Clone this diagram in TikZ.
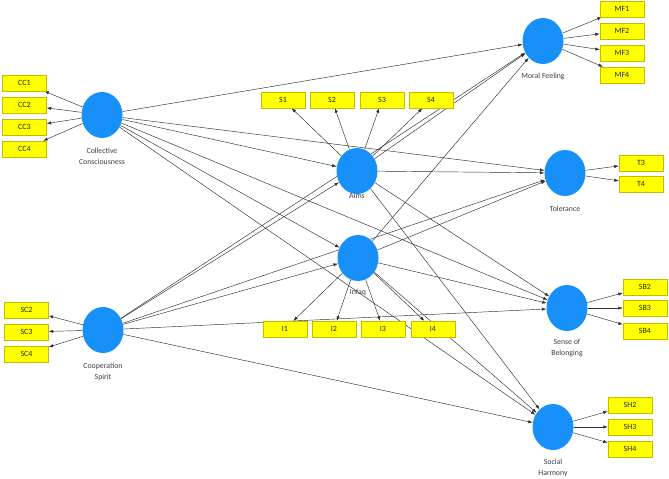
\documentclass[tikz,border=0pt]{standalone}
\usepackage{fontspec}
\setmainfont{Carlito}
\usetikzlibrary{shapes.geometric,arrows.meta}
\pgfdeclarelayer{bg}
\pgfsetlayers{bg,main}
\definecolor{lvblue}{RGB}{24,144,250}
\definecolor{indyel}{RGB}{255,255,0}
\definecolor{indborder}{RGB}{196,186,0}
\definecolor{edgegray}{RGB}{45,45,45}
\definecolor{labgray}{RGB}{60,60,75}
\begin{document}
\begin{tikzpicture}[x=1pt,y=-1pt,
  latent/.style={ellipse, fill=lvblue, minimum width=41pt, minimum height=46pt, inner sep=0pt},
  indic/.style={rectangle, fill=indyel, draw=indborder, line width=0.4pt, minimum width=44pt, minimum height=16pt, inner sep=0pt, font=\fontsize{8}{9}\selectfont, text=black!85},
  lvlabel/.style={font=\fontsize{7.8}{11}\selectfont, text=labgray, align=center},
  conn/.style={draw=edgegray, line width=0.45pt, -{Latex[length=4.5pt,width=3.2pt]}}]
\useasboundingbox (0,0) rectangle (669,479);

% latent variables
\node[latent] (CC) at (102,115) {};
\node[latent] (CS) at (103,330) {};
\node[latent] (AI) at (357,171) {};
\node[latent] (IN) at (358,258) {};
\node[latent] (MF) at (543,41) {};
\node[latent] (TO) at (565,173) {};
\node[latent] (SB) at (567,308) {};
\node[latent] (SH) at (553,427) {};

% labels
\node[lvlabel] (lCC) at (102,156.5) {Collective\\Consciousness};
\node[lvlabel] (lCS) at (103,372) {Cooperation\\Spirit};
\node[lvlabel] (lAI) at (357,196) {Aims};
\node[lvlabel] (lIN) at (358,292) {Infaq};
\node[lvlabel] (lMF) at (543,76) {Moral Feeling};
\node[lvlabel] (lTO) at (565,209) {Tolerance};
\node[lvlabel] (lSB) at (567,348) {Sense of\\Belonging};
\node[lvlabel] (lSH) at (553,467.5) {Social\\Harmony};

% indicators
\node[indic] (CC1) at (24.5,83) {CC1};
\node[indic] (CC2) at (24.5,105) {CC2};
\node[indic] (CC3) at (24.5,127) {CC3};
\node[indic] (CC4) at (24.5,149) {CC4};

\node[indic] (SC2) at (26.5,310) {SC2};
\node[indic] (SC3) at (26.5,332) {SC3};
\node[indic] (SC4) at (26.5,354) {SC4};

\node[indic] (S1) at (283,100) {S1};
\node[indic] (S2) at (332,100) {S2};
\node[indic] (S3) at (382,100) {S3};
\node[indic] (S4) at (431,100) {S4};

\node[indic] (I1) at (285,329) {I1};
\node[indic] (I2) at (334,329) {I2};
\node[indic] (I3) at (383,329) {I3};
\node[indic] (I4) at (433,329) {I4};

\node[indic] (MF1) at (622,9) {MF1};
\node[indic] (MF2) at (622,31) {MF2};
\node[indic] (MF3) at (622,53) {MF3};
\node[indic] (MF4) at (622,75) {MF4};

\node[indic] (T3) at (641,163) {T3};
\node[indic] (T4) at (641,184) {T4};

\node[indic] (SB2) at (645,287) {SB2};
\node[indic] (SB3) at (645,308) {SB3};
\node[indic] (SB4) at (645,331) {SB4};

\node[indic] (SH2) at (630,405) {SH2};
\node[indic] (SH3) at (630,427) {SH3};
\node[indic] (SH4) at (630,449) {SH4};

\begin{pgfonlayer}{bg}
% outer model
\foreach \t in {CC1,CC2,CC3,CC4} \draw[conn] (CC) -- (\t);
\foreach \t in {SC2,SC3,SC4} \draw[conn] (CS) -- (\t);
\foreach \t in {S1,S2,S3,S4} \draw[conn] (AI) -- (\t);
\foreach \t in {I1,I2,I3,I4} \draw[conn] (IN) -- (\t);
\foreach \t in {MF1,MF2,MF3,MF4} \draw[conn] (MF) -- (\t);
\foreach \t in {T3,T4} \draw[conn] (TO) -- (\t);
\foreach \t in {SB2,SB3,SB4} \draw[conn] (SB) -- (\t);
\foreach \t in {SH2,SH3,SH4} \draw[conn] (SH) -- (\t);
% inner model
\foreach \t in {MF,TO,AI,IN,SB,SH} \draw[conn] (CC) -- (\t);
\foreach \t in {AI,IN,MF,TO,SB,SH} \draw[conn] (CS) -- (\t);
\foreach \t in {MF,TO,SB,SH} \draw[conn] (AI) -- (\t);
\foreach \t in {MF,TO,SB,SH} \draw[conn] (IN) -- (\t);
\end{pgfonlayer}
\end{tikzpicture}
\end{document}
